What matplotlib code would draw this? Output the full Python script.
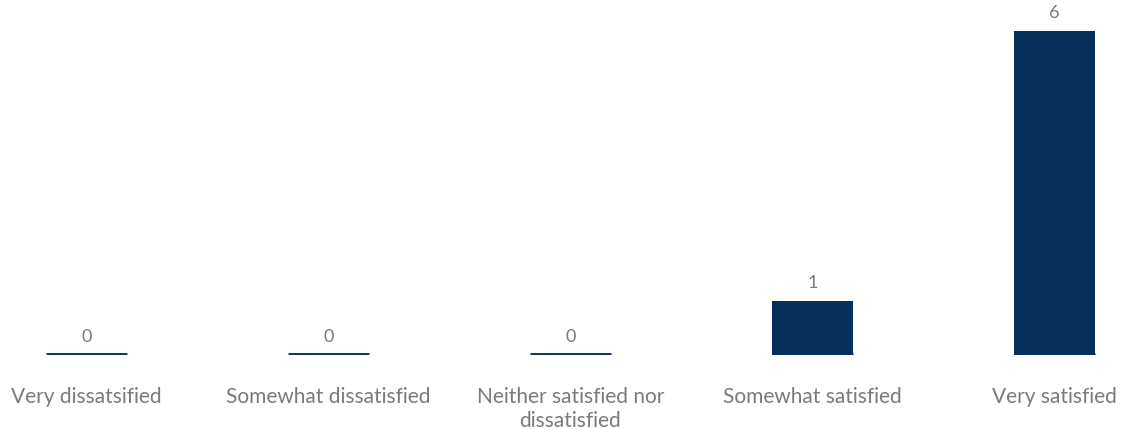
import matplotlib
matplotlib.use("Agg")
import matplotlib.pyplot as plt

categories = ["Very dissatsified", "Somewhat dissatisfied",
              "Neither satisfied nor\ndissatisfied", "Somewhat satisfied",
              "Very satisfied"]
counts = [0, 0, 0, 1, 6]

NAVY = "#06305a"
GREY = "#7a7a7a"
FONT = "Lato"
W = 0.335

fig = plt.figure(figsize=(11.23, 4.29), dpi=100)
ax = fig.add_axes([0, 74 / 429, 1, 355 / 429])

x = list(range(len(categories)))
ax.bar(x, counts, width=W, color=NAVY, linewidth=0)
# thin stroke at the base of every bar so the zero bars still show
ax.hlines([0] * len(x), [xi - W / 2 for xi in x], [xi + W / 2 for xi in x],
          color=NAVY, linewidth=3.5, capstyle="butt")

for xi, v in zip(x, counts):
    ax.annotate(str(v), (xi, v), xytext=(0, 7), textcoords="offset points",
                ha="center", va="bottom", fontsize=13, color=GREY, family=FONT)

ax.set_xlim(-0.357, 4.283)
ax.set_ylim(0, 6.57)
ax.set_xticks(x)
ax.set_xticklabels(categories, fontsize=15, color=GREY, family=FONT,
                   linespacing=1.25)
ax.tick_params(axis="x", length=0, pad=23)
ax.set_yticks([])
for s in ax.spines.values():
    s.set_visible(False)

fig.savefig("out.png", dpi=100)
